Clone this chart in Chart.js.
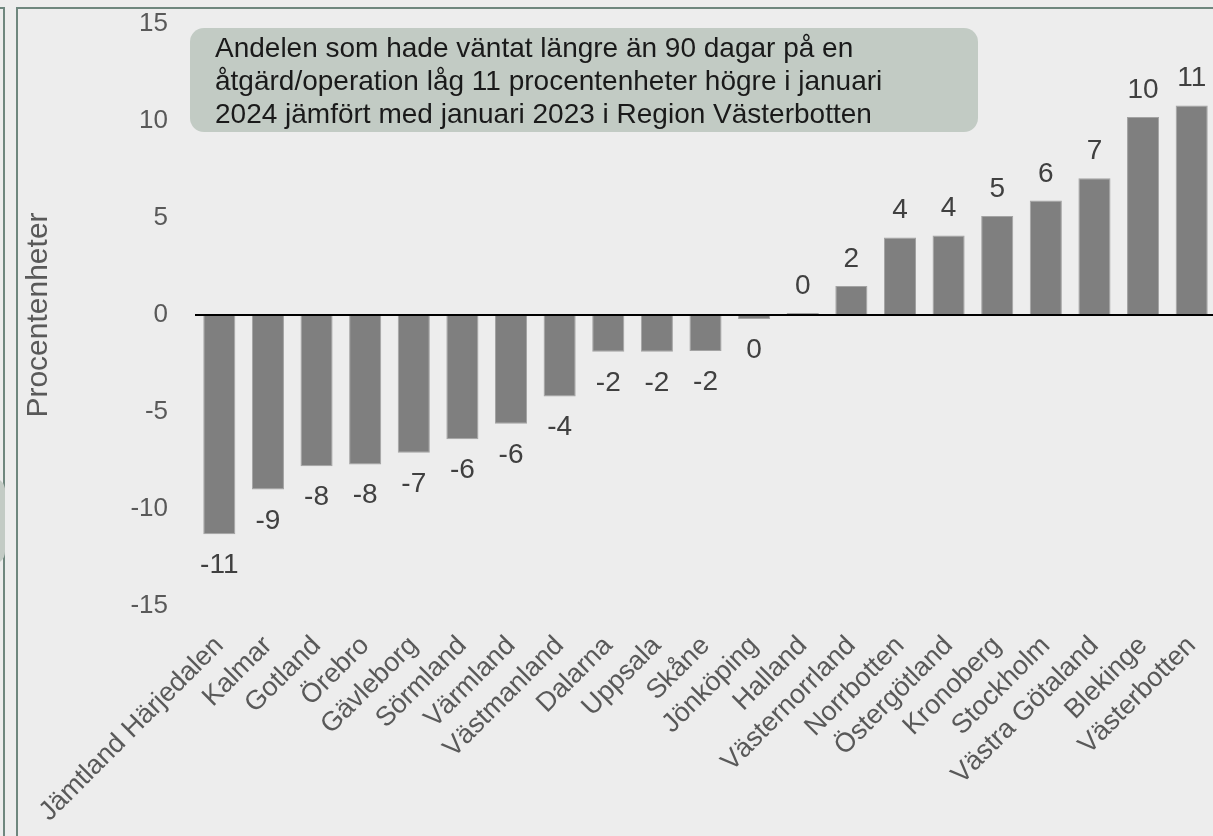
<!DOCTYPE html>
<html lang="sv">
<head>
<meta charset="utf-8">
<title>Förändring per region</title>
<script src="https://cdn.jsdelivr.net/npm/chart.js@4.4.1/dist/chart.umd.min.js"></script>
<style>
    html, body {
        margin: 0;
        padding: 0;
        width: 1213px;
        height: 836px;
        overflow: hidden;
        background: #ededed;
        font-family: "Liberation Sans", Arial, sans-serif;
    }
    .outer {
        position: absolute;
        left: -20px;
        top: 7px;
        width: 23px;
        height: 900px;
        border: 2px solid #6f877e;
        border-left: none;
    }
    .ghost {
        position: absolute;
        left: -20px;
        top: 478px;
        width: 25px;
        height: 86px;
        background: #c3cbc5;
        border-radius: 12px;
    }
    .frame {
        position: absolute;
        left: 16px;
        top: 7px;
        width: 1300px;
        height: 900px;
        border-left: 2px solid #6f877e;
        border-top: 2px solid #6f877e;
    }
    .title {
        position: absolute;
        left: 190px;
        top: -31px;
        font-weight: bold;
        font-size: 28px;
        white-space: nowrap;
        color: #000;
    }
    #wrap {
        position: absolute;
        left: 18px;
        top: 9px;
        width: 1198px;
        height: 827px;
    }
    .note {
        position: absolute;
        left: 190px;
        top: 28px;
        width: 763px;
        height: 101px;
        padding: 3px 0 0 25px;
        background: #c2cbc4;
        border-radius: 14px;
        font-size: 28px;
        line-height: 33px;
        color: #1a1a1a;
        z-index: 2;
    }
</style>
</head>
<body>
<div class="outer"></div>
<div class="ghost"></div>
<div class="frame"></div>
<div class="title">Förändring i andelen som väntat längre än 90 dagar på en åtgärd/operation per region</div>
<div id="wrap"><canvas id="chart"></canvas></div>
<div class="note">Andelen som hade väntat längre än 90 dagar på en<br>åtgärd/operation låg 11 procentenheter högre i januari<br>2024 jämfört med januari 2023 i Region Västerbotten</div>

<script>
// Regions, sorted by change (procentenheter), jan 2023 -> jan 2024
const regions = [
    'Jämtland Härjedalen', 'Kalmar', 'Gotland', 'Örebro', 'Gävleborg', 'Sörmland', 'Värmland',
    'Västmanland', 'Dalarna', 'Uppsala', 'Skåne', 'Jönköping', 'Halland', 'Västernorrland',
    'Norrbotten', 'Östergötland', 'Kronoberg', 'Stockholm', 'Västra Götaland', 'Blekinge', 'Västerbotten'
];
const change = [
    -11.3, -9.0, -7.8, -7.7, -7.1, -6.4, -5.6,
    -4.2, -1.9, -1.9, -1.85, -0.2, 0.1, 1.5,
    4.0, 4.1, 5.1, 5.9, 7.05, 10.2, 10.8
];
const yTicks = [-15, -10, -5, 0, 5, 10, 15];

const axisGrey = '#595959';
const fontFamily = '"Liberation Sans", Arial, sans-serif';

// value labels above / below each bar
const barLabels = {
    id: 'barLabels',
    afterDatasetsDraw(chart) {
        const ctx = chart.ctx;
        const meta = chart.getDatasetMeta(0);
        ctx.save();
        ctx.font = '28px ' + fontFamily;
        ctx.fillStyle = '#404040';
        ctx.textAlign = 'center';
        ctx.textBaseline = 'alphabetic';
        meta.data.forEach((bar, i) => {
            const v = change[i];
            const txt = String(Math.round(v) || 0);
            const y = v >= 0 ? bar.y - 19 : bar.y + 39;
            ctx.fillText(txt, bar.x, y);
        });
        ctx.restore();
    }
};

function renderChart() {
    const ctx = document.getElementById('chart');
    if (!ctx || typeof Chart === 'undefined') return;

    new Chart(ctx, {
        type: 'bar',
        data: {
            labels: regions,
            datasets: [{
                data: change,
                backgroundColor: '#7f7f7f',
                borderColor: '#a3a3a3',
                borderWidth: 1,
                barPercentage: 0.66,
                categoryPercentage: 1
            }]
        },
        options: {
            responsive: true,
            maintainAspectRatio: false,
            animation: false,
            layout: { padding: 0 },
            plugins: {
                legend: { display: false },
                tooltip: { enabled: false }
            },
            scales: {
                x: {
                    grid: { display: false },
                    border: { display: false },
                    ticks: {
                        autoSkip: false,
                        minRotation: 45,
                        maxRotation: 45,
                        padding: 16,
                        color: axisGrey,
                        font: { family: fontFamily, size: 27 }
                    },
                    afterFit: s => {
                        s.height = 230;
                        s.paddingLeft = 0;
                        s.paddingRight = 0;
                    }
                },
                y: {
                    min: -15,
                    max: 15,
                    afterBuildTicks: s => { s.ticks = yTicks.map(v => ({ value: v })); },
                    grid: {
                        drawTicks: false,
                        color: c => (c.tick && c.tick.value === 0 ? '#000000' : 'rgba(0,0,0,0)'),
                        lineWidth: 2
                    },
                    border: { display: false },
                    ticks: {
                        padding: 27,
                        color: axisGrey,
                        font: { family: fontFamily, size: 26 }
                    },
                    title: {
                        display: true,
                        text: 'Procentenheter',
                        color: axisGrey,
                        padding: { top: 3, bottom: 0 },
                        font: { family: fontFamily, size: 30 }
                    },
                    afterFit: s => {
                        s.width = 177;
                        s.paddingTop = 15;
                        s.paddingBottom = 0;
                    }
                }
            }
        },
        plugins: [barLabels]
    });
}

renderChart();
</script>
</body>
</html>
